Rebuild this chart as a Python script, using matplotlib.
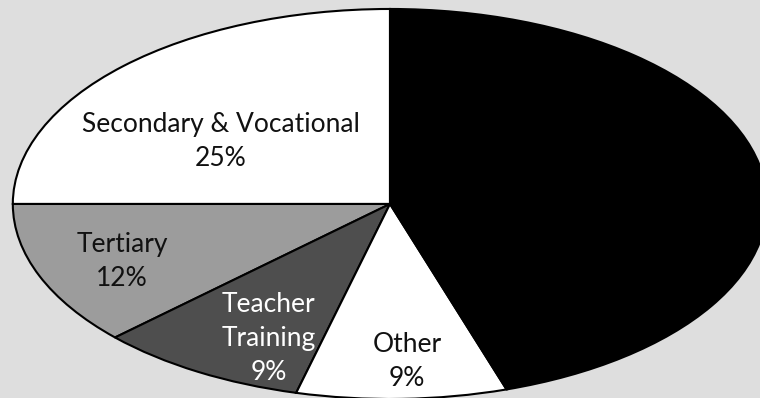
import matplotlib.pyplot as plt

# Share of spending by sector (the large dark slice carries no printed label)
sectors = ['Secondary & Vocational', 'Tertiary', 'Teacher\nTraining', 'Other', 'Primary']
shares = [25, 12, 9, 9, 45]
colors = ['white', '#9c9c9c', '#4e4e4e', 'white', 'black']
text_colors = ['#111111', '#111111', 'white', '#111111', None]

# label centres in data units of the stretched pie
label_x = [-0.448, -0.71, -0.321, 0.045]
label_y = [0.32, -0.295, -0.69, -0.808]

plt.rcParams['font.family'] = ['Lato', 'DejaVu Sans']

fig = plt.figure(figsize=(7.6, 3.98), dpi=100)
fig.patch.set_facecolor('#dedede')
ax = fig.add_axes([0, 0, 1, 1])
ax.set_facecolor('#dedede')

ax.pie(shares, colors=colors, startangle=90, counterclock=True,
       wedgeprops=dict(edgecolor='black', linewidth=1.5))

# stretch the circle into an ellipse filling the figure
ax.set_aspect('auto')
ax.set_xlim(-1.034, 0.981)
ax.set_ylim(-0.995, 1.046)
ax.axis('off')

for name, pct, tc, x, y in zip(sectors, shares, text_colors, label_x, label_y):
    ax.text(x, y, f'{name}\n{pct}%', ha='center', va='center', color=tc,
            fontsize=19, linespacing=1.45)

plt.savefig('out.png', dpi=100, facecolor=fig.get_facecolor())
